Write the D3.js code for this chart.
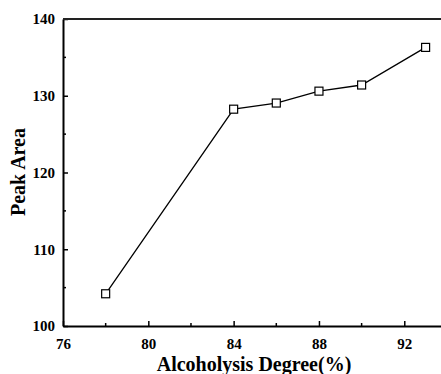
<!DOCTYPE html>
<html>
<head>
<meta charset="utf-8">
<script src="https://cdn.jsdelivr.net/npm/d3@7"></script>
<style>
  body { margin: 0; background: #fff; }
  svg { display: block; }
  text { font-family: "Liberation Serif", "Times New Roman", serif; font-weight: bold; fill: #000; }
</style>
</head>
<body>
<div id="chart"></div>
<script>
// Data
const degree = [78, 84, 86, 88, 90, 93];
const peakArea = [104.2, 128.25, 129.05, 130.6, 131.4, 136.3];
const xTicks = [76, 80, 84, 88, 92];
const yTicks = [100, 110, 120, 130, 140];

const W = 441, H = 374;
const margin = { top: 19, left: 63, bottom: 48 };

const svg = d3.select("#chart")
    .append("svg")
    .attr("width", W)
    .attr("height", H);

// Scales (right end runs past the image edge, as in the original)
const x = d3.scaleLinear()
    .domain([76, 94])
    .range([margin.left, margin.left + 18 * 21.33]);

const y = d3.scaleLinear()
    .domain([100, 140])
    .range([326, margin.top]);

// Bottom axis, ticks pointing inward
const xAxis = svg.append("g")
    .attr("transform", `translate(0,${y(100)})`)
    .call(d3.axisBottom(x).tickValues(xTicks).tickSizeInner(-5).tickSizeOuter(0).tickPadding(12).tickFormat(d3.format("d")))
    .attr("font-family", null)
    .attr("font-size", null);
xAxis.selectAll(".tick text")
    .style("font-family", "'Liberation Serif', serif")
    .style("font-weight", "bold")
    .style("font-size", "15px");
xAxis.select(".domain").attr("stroke-width", 2);
xAxis.selectAll(".tick line").attr("stroke-width", 1.5);

// minor x ticks
svg.append("g")
    .selectAll("line")
    .data([78, 82, 86, 90])
    .enter()
    .append("line")
    .attr("x1", d => x(d)).attr("x2", d => x(d))
    .attr("y1", y(100)).attr("y2", y(100) - 3)
    .attr("stroke", "#000").attr("stroke-width", 1.5);

// Left axis, ticks pointing inward
const yAxis = svg.append("g")
    .attr("transform", `translate(${x(76)},0)`)
    .call(d3.axisLeft(y).tickValues(yTicks).tickSizeInner(-5).tickSizeOuter(0).tickPadding(8))
    .attr("font-family", null)
    .attr("font-size", null);
yAxis.selectAll(".tick text")
    .style("font-family", "'Liberation Serif', serif")
    .style("font-weight", "bold")
    .style("font-size", "15px");
yAxis.select(".domain").attr("stroke-width", 2);
yAxis.selectAll(".tick line").attr("stroke-width", 1.5);

// minor y ticks
svg.append("g")
    .selectAll("line")
    .data([105, 115, 125, 135])
    .enter()
    .append("line")
    .attr("x1", x(76)).attr("x2", x(76) + 3)
    .attr("y1", d => y(d)).attr("y2", d => y(d))
    .attr("stroke", "#000").attr("stroke-width", 1.5);

// Top frame line
svg.append("line")
    .attr("x1", x(76)).attr("x2", x(94))
    .attr("y1", y(140)).attr("y2", y(140))
    .attr("stroke", "#222").attr("stroke-width", 2);

// Series line
const points = degree.map((d, i) => ({ x: d, y: peakArea[i] }));

svg.append("path")
    .datum(points)
    .attr("fill", "none")
    .attr("stroke", "#000")
    .attr("stroke-width", 1.3)
    .attr("d", d3.line().x(d => x(d.x)).y(d => y(d.y)));

// Open square markers
svg.selectAll("rect.marker")
    .data(points)
    .enter()
    .append("rect")
    .attr("class", "marker")
    .attr("x", d => x(d.x) - 4)
    .attr("y", d => y(d.y) - 4)
    .attr("width", 8)
    .attr("height", 8)
    .attr("fill", "#fff")
    .attr("stroke", "#000")
    .attr("stroke-width", 1.2);

// Axis titles
svg.append("text")
    .attr("x", 254)
    .attr("y", 371)
    .attr("text-anchor", "middle")
    .attr("font-size", 20)
    .text("Alcoholysis Degree(%)");

svg.append("text")
    .attr("transform", `translate(25,172) rotate(-90)`)
    .attr("text-anchor", "middle")
    .attr("font-size", 20)
    .text("Peak Area");
</script>
</body>
</html>
